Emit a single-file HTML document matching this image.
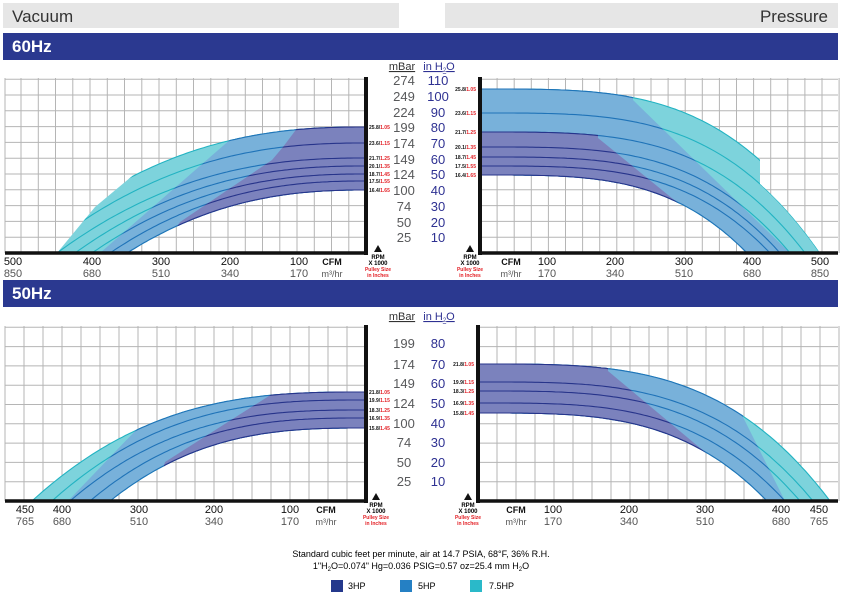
<!DOCTYPE html>
<html><head><meta charset="utf-8"><style>
html,body{margin:0;padding:0;background:#fff;}
svg{display:block;font-family:"Liberation Sans",sans-serif;}
</style></head><body>
<svg id="s" width="843" height="595" viewBox="0 0 843 595" xmlns="http://www.w3.org/2000/svg">
<rect x="3" y="3" width="396" height="25" fill="#e6e6e6"/>
<rect x="445" y="3" width="393" height="25" fill="#e6e6e6"/>
<text x="12" y="22" font-size="17" fill="#333">Vacuum</text>
<text x="828" y="22" font-size="17" fill="#333" text-anchor="end">Pressure</text>
<rect x="3" y="33" width="835" height="27" fill="#2b3990"/>
<text x="12" y="52" font-size="17" font-weight="bold" fill="#fff">60Hz</text>
<rect x="3" y="280" width="835" height="27" fill="#2b3990"/>
<text x="12" y="299" font-size="17" font-weight="bold" fill="#fff">50Hz</text>
<g id="g"></g>
<g font-size="9" fill="#000" text-anchor="middle">
<text x="421" y="557">Standard cubic feet per minute, air at 14.7 PSIA, 68°F, 36% R.H.</text>
<text x="421" y="569">1"H<tspan font-size="6" dy="2">2</tspan><tspan dy="-2">O=0.074" Hg=0.036 PSIG=0.57 oz=25.4 mm H</tspan><tspan font-size="6" dy="2">2</tspan><tspan dy="-2">O</tspan></text>
</g>
<rect x="331" y="580" width="12" height="12" fill="#24388c"/>
<text x="348" y="589" font-size="9">3HP</text>
<rect x="400" y="580" width="12" height="12" fill="#2580c4"/>
<text x="418" y="589" font-size="9">5HP</text>
<rect x="470" y="580" width="12" height="12" fill="#2ab9c9"/>
<text x="489" y="589" font-size="9">7.5HP</text>
</svg>
<script>
var g=document.getElementById('g');var out='';
function P(a){return a.map(function(p){return p[0].toFixed(1)+','+p[1].toFixed(1)}).join(' ');}
function cpts(c,cv){var r=[];for(var i=0;i<=100;i++){var t=i/100;r.push([c.ax+c.dir*t*cv.d,c.ay-cv.h*(1-Math.pow(t,c.k))]);}return r;}
var cid=0;
function chart(c){
 var s='';
 for(var i=0;i<c.vx.length;i++)s+='<line x1="'+c.vx[i]+'" y1="'+c.gt+'" x2="'+c.vx[i]+'" y2="'+c.ay+'" stroke="#b5b5b5" stroke-width="1"/>';
 for(var i=0;i<c.hy.length;i++)s+='<line x1="'+c.gx0+'" y1="'+c.hy[i]+'" x2="'+c.gx1+'" y2="'+c.hy[i]+'" stroke="#b5b5b5" stroke-width="1"/>';
 var cv=c.y0.map(function(y,i){return {h:c.ay-y,d:c.d[i]};});
 var pts=cv.map(function(v){return cpts(c,v);});
 function band(ti){return pts[ti].concat(pts[pts.length-1].slice().reverse());}
 var layers=[
  {fill:'#7dd3dc',st:'#22b3c2',clip:c.tealClip,top:0},
  {fill:'#78b1da',st:'#1f73b8',clip:c.blueClip,top:0},
  {fill:'#7b82bd',st:'#27348b',clip:c.darkClip,top:c.darkTop||0}];
 layers.forEach(function(L){
  var id='c'+(cid++);var cl='';
  if(L.clip){s+='<clipPath id="'+id+'"><polygon points="'+P(L.clip)+'"/></clipPath>';cl=' clip-path="url(#'+id+')"';}
  s+='<g'+cl+'><polygon points="'+P(band(L.top))+'" fill="'+L.fill+'"/>';
  for(var i=L.top;i<pts.length;i++)s+='<polyline points="'+P(pts[i])+'" fill="none" stroke="'+L.st+'" stroke-width="1.1"/>';
  s+='</g>';
 });
 s+='<line x1="'+c.ax+'" y1="'+(c.gt-1)+'" x2="'+c.ax+'" y2="'+(c.ay+2)+'" stroke="#111" stroke-width="4"/>';
 s+='<line x1="'+c.bx0+'" y1="'+c.ay+'" x2="'+c.bx1+'" y2="'+c.ay+'" stroke="#111" stroke-width="3.5"/>';
 c.lab.forEach(function(l,i){
  var y=c.y0[i]+2, parts=l.split('/');
  s+='<text x="'+c.lx+'" y="'+y+'" font-size="5" font-weight="bold" text-anchor="'+c.la+'"><tspan fill="#111">'+parts[0]+'/</tspan><tspan fill="#e31e24">'+parts[1]+'</tspan></text>';
 });
 c.bl.forEach(function(b){
  s+='<text x="'+b[0]+'" y="'+(c.ay+12)+'" font-size="'+(b[1]=='CFM'?9:11)+'" text-anchor="middle" fill="#111"'+(b[1]=='CFM'?' font-weight="bold"':'')+'>'+b[1]+'</text>';
  s+='<text x="'+b[0]+'" y="'+(c.ay+24)+'" font-size="'+(b[1]=='CFM'?9:11)+'" text-anchor="middle" fill="#555">'+(b[1]=='CFM'?'m³/hr':b[2])+'</text>';
 });
 var rx=c.rx, ry=c.ay;
 s+='<polygon points="'+(rx-4)+','+(ry-1)+' '+(rx+4)+','+(ry-1)+' '+rx+','+(ry-8)+'" fill="#111"/>';
 s+='<text x="'+rx+'" y="'+(ry+6)+'" font-size="6" font-weight="bold" text-anchor="middle">RPM</text>';
 s+='<text x="'+rx+'" y="'+(ry+12)+'" font-size="6" font-weight="bold" text-anchor="middle">X 1000</text>';
 s+='<text x="'+rx+'" y="'+(ry+18)+'" font-size="5" font-weight="bold" fill="#e31e24" text-anchor="middle">Pulley Size</text>';
 s+='<text x="'+rx+'" y="'+(ry+24)+'" font-size="5" font-weight="bold" fill="#e31e24" text-anchor="middle">in Inches</text>';
 out+=s;
}
function rng(a,step,n){var r=[];for(var i=1;i<=n;i++)r.push(+(a+step*i).toFixed(1));return r;}
var v60={ax:366,ay:253,dir:-1,k:2.4,gt:78,gx0:5,gx1:366,bx0:5,bx1:368,
 vx:rng(366,-17.25,20).concat([5]),hy:rng(253,-15.8,11),
 y0:[127,143,158,166,174,181,190],d:[345,327,309,291,274,256,239],
 tealClip:[[370,60],[298,60],[298,125],[232,138],[165,158],[137,172],[95,207],[57,253],[50,270],[370,270]],
 blueClip:[[370,60],[232,60],[232,138],[100,253],[95,270],[370,270]],
 darkClip:[[370,60],[298,60],[298,127],[283,147],[272,160],[180,222],[150,270],[370,270]],
 lab:['25.8/1.05','23.6/1.15','21.7/1.25','20.1/1.35','18.7/1.45','17.5/1.55','16.4/1.65'],lx:369,la:'start',rx:378,
 bl:[[13,'500','850'],[92,'400','680'],[161,'300','510'],[230,'200','340'],[299,'100','170'],[332,'CFM']]};
chart(v60);
var p60={ax:480,ay:253,dir:1,k:3.5,gt:78,gx0:480,gx1:838,bx0:478,bx1:838,
 vx:rng(480,17.1,21),hy:rng(253,-15.8,11),
 y0:[89,113,132,147,157,166,175],d:[355,340,325,310,300,290,267],
 blueClip:[[470,60],[633,60],[633,100],[790,253],[790,270],[470,270]],
 darkClip:[[470,60],[598,60],[598,138],[705,225],[722,270],[470,270]],darkTop:2,
 lab:['25.8/1.05','23.6/1.15','21.7/1.25','20.1/1.35','18.7/1.45','17.5/1.55','16.4/1.65'],lx:476,la:'end',rx:470,
 bl:[[511,'CFM'],[547,'100','170'],[615,'200','340'],[684,'300','510'],[752,'400','680'],[820,'500','850']]};
(function(){var c=p60,h=c.ay-c.y0[1],d=c.d[1];var tc=[[470,60],[760,60]];
 for(var i=0;i<=60;i++){var x=760+i;var t=(x-480)/d;if(t>1)t=1;tc.push([x,c.ay-h*(1-Math.pow(t,c.k))]);}
 tc.push([845,253],[845,270],[470,270]);c.tealClip=tc;})();
chart(p60);
var v50={ax:366,ay:501,dir:-1,k:2.8,gt:326,gx0:5,gx1:366,bx0:5,bx1:368,
 vx:rng(366,-19,19),hy:rng(501,-19.3,9),
 y0:[392,400,410,418,428],d:[334,314,296,276,256],tealClip:null,
 blueClip:[[370,310],[138,310],[138,428],[68,501],[60,515],[370,515]],
 darkClip:[[370,310],[272,310],[272,394],[165,462],[150,515],[370,515]],
 lab:['21.8/1.05','19.9/1.15','18.3/1.25','16.9/1.35','15.8/1.45'],lx:369,la:'start',rx:376,
 bl:[[25,'450','765'],[62,'400','680'],[139,'300','510'],[214,'200','340'],[290,'100','170'],[326,'CFM']]};
chart(v50);
var p50={ax:478,ay:501,dir:1,k:3.4,gt:326,gx0:478,gx1:838,bx0:476,bx1:838,
 vx:rng(478,19,19),hy:rng(501,-19.3,9),
 y0:[364,382,391,403,413],d:[352,335,322,307,289],tealClip:null,
 blueClip:[[470,310],[743,310],[743,417],[792,515],[470,515]],
 darkClip:[[470,310],[608,310],[608,371],[712,458],[735,515],[470,515]],
 lab:['21.8/1.05','19.9/1.15','18.3/1.25','16.9/1.35','15.8/1.45'],lx:474,la:'end',rx:468,
 bl:[[516,'CFM'],[553,'100','170'],[629,'200','340'],[705,'300','510'],[781,'400','680'],[819,'450','765']]};
chart(p50);
function scale(top,mb,inh,ys){
 out+='<text x="402" y="'+top+'" font-size="11" fill="#333" text-anchor="middle" text-decoration="underline">mBar</text>';
 out+='<text x="439" y="'+top+'" font-size="11" fill="#2e3192" text-anchor="middle" text-decoration="underline">in H<tspan font-size="6" dy="2">2</tspan><tspan dy="-2">O</tspan></text>';
 for(var i=0;i<mb.length;i++){
  out+='<text x="404" y="'+(ys[i]+5)+'" font-size="13" fill="#58595b" text-anchor="middle">'+mb[i]+'</text>';
  out+='<text x="438" y="'+(ys[i]+5)+'" font-size="13" fill="#2e3192" text-anchor="middle">'+inh[i]+'</text>';
 }
}
scale(70,[274,249,224,199,174,149,124,100,74,50,25],[110,100,90,80,70,60,50,40,30,20,10],[80,96,112,127,143,159,174,190,206,222,237]);
scale(320,[199,174,149,124,100,74,50,25],[80,70,60,50,40,30,20,10],[343,364,383,403,423,442,462,481]);
g.innerHTML=out;
</script>
</body></html>
